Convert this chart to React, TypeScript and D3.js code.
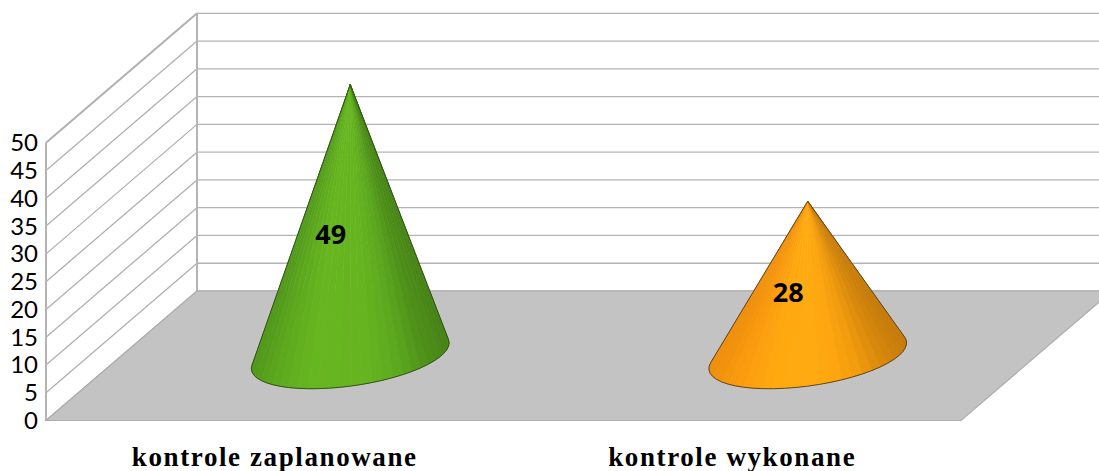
import * as d3 from 'd3'

const categories = ['kontrole zaplanowane', 'kontrole wykonane']
const values = [49, 28]
const yTicks = [0, 5, 10, 15, 20, 25, 30, 35, 40, 45, 50]
const labelOffsets = [-19.5, -19.5]

const greenStops = ['#50981b', '#5ca81e', '#63b11f', '#67b720', '#66b520', '#66b520', '#62b01f', '#5aa41d', '#4f9119', '#478316']
const orangeStops = ['#f0900c', '#f8990e', '#fda20f', '#ffa90f', '#ffaa10', '#ffaa10', '#fca50f', '#f09a0e', '#d98a0b', '#c87c0a']
const palettes = [greenStops, orangeStops]
const outlines = ['#33521a', '#5c4526']

const width = 1099
const height = 471
const depthX = 151
const depthY = 129.5

// front edge of the floor, the back wall is this plane pushed by the depth vector
const x = d3.scaleBand<string>().domain(categories).range([46, 961])
const y = d3.scaleLinear().domain([0, 50]).range([420.5, 142.8])

const project = (px: number, value: number, depth: number): [number, number] => [
	px + depth * depthX,
	y(value) - depth * depthY,
]

const path = d3.line()

const Cone = ({ index }: { index: number }) => {
	const cx = x(categories[index])! + x.bandwidth() / 2
	const [bx, by] = project(cx, 0, 0.5)
	const top = project(cx, values[index], 0.5)
	const apex: [number, number] = [top[0], top[1] + 1]
	const radiusX = 91
	const ring = (t: number): [number, number] => [
		bx + radiusX * Math.cos(t) + 38.6 * Math.sin(t),
		by - 33 * Math.sin(t),
	]
	const slope = (t: number) => {
		const p = ring(t)
		return (p[0] - apex[0]) / (p[1] - apex[1])
	}
	const samples = d3.range(-Math.PI, Math.PI / 2, 0.005)
	const start = d3.least(samples.filter((t) => t < -Math.PI / 2), slope)!
	const end = d3.greatest(samples.filter((t) => t > -Math.PI / 2), slope)!
	const steps = 30
	const ts = d3.range(steps + 1).map((i) => start + ((end - start) * i) / steps)
	const points = ts.map(ring)
	const left = points[0][0]
	const right = points[steps][0]
	const stops = palettes[index]
	const color = d3
		.scaleLinear<string>()
		.domain(stops.map((_, i) => i / (stops.length - 1)))
		.range(stops)

	return (
		<g>
			{points.slice(1).map((p, i) => {
				const c = color(((p[0] + points[i][0]) / 2 - left) / (right - left))
				return (
					<path
						key={i}
						d={path([apex, points[i], p])! + 'Z'}
						fill={c}
						stroke={c}
						strokeWidth={0.6}
					/>
				)
			})}
			<path
				d={path([apex, ...points])! + 'Z'}
				fill="none"
				stroke={outlines[index]}
				strokeWidth={1}
				strokeLinejoin="round"
			/>
		</g>
	)
}

const App = () => {
	const floor = [
		project(46, 0, 0),
		project(961, 0, 0),
		project(961, 0, 1),
		project(46, 0, 1),
	] as [number, number][]

	return (
		<svg
			width={width}
			height={height}
			viewBox={`0 0 ${width} ${height}`}
			style={{ position: 'absolute', left: 0, top: 0, background: '#fff' }}
		>
			{yTicks.map((t) => {
				const a = project(46, t, 0)
				const b = project(46, t, 1)
				const c = project(961, t, 1)
				const w = t === 50 ? 2 : 1.3
				return (
					<g key={t}>
						<path d={path([a, b])!} stroke="#b0b0b0" strokeWidth={w} fill="none" />
						<path d={path([b, c])!} stroke="#b4b4b4" strokeWidth={1.3} fill="none" />
					</g>
				)
			})}
			<path
				d={path([project(46, 0, 0), project(46, 50, 0)])!}
				stroke="#b4b4b4"
				strokeWidth={2}
				fill="none"
			/>
			<path
				d={path([project(46, 0, 1), project(46, 50, 1)])!}
				stroke="#b4b4b4"
				strokeWidth={2}
				fill="none"
			/>
			<path d={path(floor)! + 'Z'} fill="#c3c3c3" stroke="#adadad" strokeWidth={1.2} />

			{values.map((_, i) => (
				<Cone key={i} index={i} />
			))}

			{values.map((v, i) => {
				const cx = x(categories[i])! + x.bandwidth() / 2
				const [lx, ly] = project(cx, v / 2, 0.5)
				return (
					<text
						key={i}
						x={lx + labelOffsets[i]}
						y={ly + 24}
						textAnchor="middle"
						fontFamily="'Open Sans', sans-serif"
						fontWeight={700}
						fontSize={27}
						fill="#000"
					>
						{v}
					</text>
				)
			})}

			{yTicks.map((t) => (
				<text
					key={t}
					x={38}
					y={y(t) + 8.5}
					textAnchor="end"
					fontFamily="Lato, sans-serif"
					fontSize={24}
					fill="#000"
				>
					{t}
				</text>
			))}

			{categories.map((c) => (
				<text
					key={c}
					x={x(c)! + x.bandwidth() / 2}
					y={465.5}
					textAnchor="middle"
					fontFamily="'Liberation Serif', serif"
					fontWeight={700}
					fontSize={27}
					letterSpacing={1.6}
					fill="#000"
				>
					{c}
				</text>
			))}
		</svg>
	)
}

export default App
